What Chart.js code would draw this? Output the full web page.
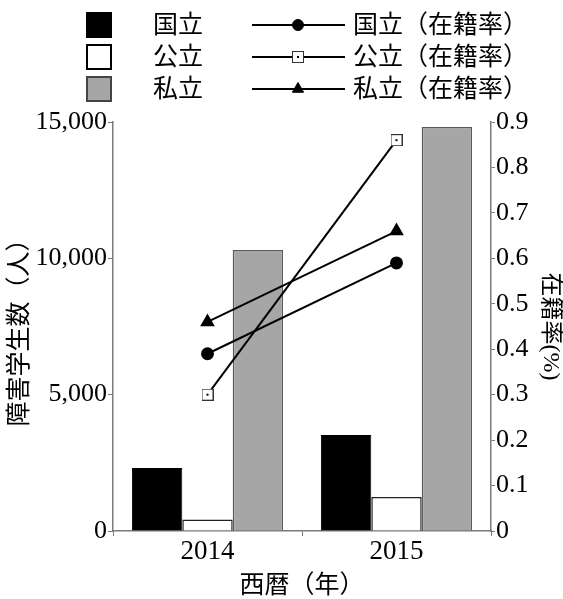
<!DOCTYPE html>
<html>
<head>
<meta charset="utf-8">
<script src="https://cdn.jsdelivr.net/npm/chart.js@4"></script>
<style>
html, body { margin: 0; padding: 0; background: #fff; }
#wrap { width: 563px; height: 599px; }
</style>
</head>
<body>
<div id="wrap"><canvas id="chart_students"></canvas></div>
<script>
const years = ['2014', '2015'];

// 障害学生数（人）
const students_national = [2310, 3520];
const students_public = [420, 1250];
const students_private = [10310, 14820];

// 在籍率 (%)
const rate_national = [0.39, 0.59];
const rate_public = [0.30, 0.86];
const rate_private = [0.46, 0.66];

const FONT = '"Liberation Serif", "Noto Sans CJK JP"';
const AXIS_GREY = '#7a7a7a';

Chart.defaults.font.family = FONT;
Chart.defaults.color = '#000';

// square marker with a tiny dot in the middle
const square_marker = () => {
    const c = document.createElement('canvas');
    c.width = 12;
    c.height = 12;
    const ctx = c.getContext('2d');
    ctx.fillStyle = '#fff';
    ctx.fillRect(0, 0, 12, 12);
    ctx.strokeStyle = '#333';
    ctx.lineWidth = 1;
    ctx.strokeRect(0.5, 0.5, 11, 11);
    ctx.fillStyle = '#000';
    ctx.fillRect(5, 5, 2, 2);
    return c;
};

// legend in two columns: boxes for the bars, line + marker for the rates
const legend_plugin = {
    id: 'two_col_legend',
    afterDraw(chart) {
        const ctx = chart.ctx;
        const bars = chart.data.datasets.filter((d) => d.type === 'bar');
        const lines = chart.data.datasets.filter((d) => d.type === 'line');
        ctx.save();
        ctx.font = '25px ' + FONT;
        ctx.textBaseline = 'middle';
        bars.forEach((ds, i) => {
            const y = 25 + i * 32;
            ctx.fillStyle = ds.backgroundColor;
            ctx.fillRect(87, y - 12, 24, 24);
            ctx.lineWidth = 2;
            ctx.strokeStyle = ds.legendBorder;
            ctx.strokeRect(87, y - 12, 24, 24);
            ctx.fillStyle = '#000';
            ctx.fillText(ds.label, 153, y + 1);
        });
        lines.forEach((ds, i) => {
            const y = 25 + i * 32;
            ctx.strokeStyle = '#000';
            ctx.lineWidth = 2;
            ctx.beginPath();
            ctx.moveTo(252, y);
            ctx.lineTo(345, y);
            ctx.stroke();
            ctx.fillStyle = '#000';
            ctx.lineWidth = 1;
            Chart.helpers.drawPoint(ctx, {
                pointStyle: ds.pointStyle,
                radius: ds.pointRadius,
                rotation: 0,
                borderWidth: 1,
            }, 298, y);
            ctx.fillStyle = '#000';
            ctx.fillText(ds.label, 353, y + 1);
        });
        ctx.restore();
    }
};

const data = {
    labels: years,
    datasets: [
        {
            type: 'line',
            label: '国立（在籍率）',
            data: rate_national,
            yAxisID: 'y1',
            borderColor: '#000',
            backgroundColor: '#000',
            borderWidth: 2,
            pointStyle: 'circle',
            pointRadius: 5.5,
            order: 0,
        },
        {
            type: 'line',
            label: '公立（在籍率）',
            data: rate_public,
            yAxisID: 'y1',
            borderColor: '#000',
            backgroundColor: '#fff',
            borderWidth: 2,
            pointStyle: square_marker(),
            pointRadius: 6,
            order: 0,
        },
        {
            type: 'line',
            label: '私立（在籍率）',
            data: rate_private,
            yAxisID: 'y1',
            borderColor: '#000',
            backgroundColor: '#000',
            borderWidth: 2,
            pointStyle: 'triangle',
            pointRadius: 6.5,
            order: 0,
        },
        {
            type: 'bar',
            label: '国立',
            data: students_national,
            yAxisID: 'y',
            backgroundColor: '#000',
            borderColor: '#000',
            legendBorder: '#000',
            borderWidth: 1,
            order: 1,
        },
        {
            type: 'bar',
            label: '公立',
            data: students_public,
            yAxisID: 'y',
            backgroundColor: '#fff',
            borderColor: '#222',
            legendBorder: '#000',
            borderWidth: 1.5,
            order: 1,
        },
        {
            type: 'bar',
            label: '私立',
            data: students_private,
            yAxisID: 'y',
            backgroundColor: '#a6a6a6',
            borderColor: '#5a5a5a',
            legendBorder: '#444',
            borderWidth: 1.5,
            order: 1,
        },
    ]
};

const options = {
    responsive: true,
    maintainAspectRatio: false,
    animation: false,
    locale: 'en-US',
    layout: {
        padding: { top: 122, left: 0, right: 0, bottom: 0 },
    },
    datasets: {
        bar: {
            categoryPercentage: 0.8,
            barPercentage: 1.0,
        }
    },
    plugins: {
        legend: { display: false },
        tooltip: { enabled: false },
    },
    scales: {
        x: {
            grid: {
                offset: true,
                drawOnChartArea: false,
                drawTicks: true,
                tickLength: 5,
                color: AXIS_GREY,
            },
            border: { display: true, color: AXIS_GREY, width: 1.5 },
            ticks: {
                font: { size: 27 },
                padding: 0,
                color: '#000',
            },
            title: {
                display: true,
                text: '西暦（年）',
                font: { size: 25, lineHeight: 1.0 },
                padding: { top: 0, bottom: 0 },
                color: '#000',
            },
            afterFit: (scale) => { scale.height = 68; },
        },
        y: {
            position: 'left',
            min: 0,
            max: 15000,
            ticks: {
                stepSize: 5000,
                font: { size: 26 },
                padding: 1,
                color: '#000',
            },
            grid: {
                drawOnChartArea: false,
                tickLength: 5,
                color: AXIS_GREY,
            },
            border: { display: true, color: AXIS_GREY, width: 1.5 },
            title: {
                display: true,
                text: '障害学生数（人）',
                font: { size: 25, lineHeight: 1.0 },
                padding: { top: 8, bottom: 0 },
                color: '#000',
            },
            afterFit: (scale) => { scale.width = 113; },
        },
        y1: {
            position: 'right',
            min: 0,
            max: 0.9,
            ticks: {
                stepSize: 0.1,
                font: { size: 26 },
                padding: 1,
                color: '#000',
            },
            grid: {
                drawOnChartArea: false,
                tickLength: 4,
                color: AXIS_GREY,
            },
            border: { display: true, color: AXIS_GREY, width: 1.5 },
            title: {
                display: true,
                text: '在籍率(%)',
                font: { size: 24, lineHeight: 1.0 },
                padding: { top: 1, bottom: 0 },
                color: '#000',
            },
            afterFit: (scale) => { scale.width = 72; },
        },
    }
};

const chart_students = document.getElementById('chart_students');
const chart = new Chart(chart_students, {
    data: data,
    options: options,
    plugins: [legend_plugin],
});
</script>
</body>
</html>
